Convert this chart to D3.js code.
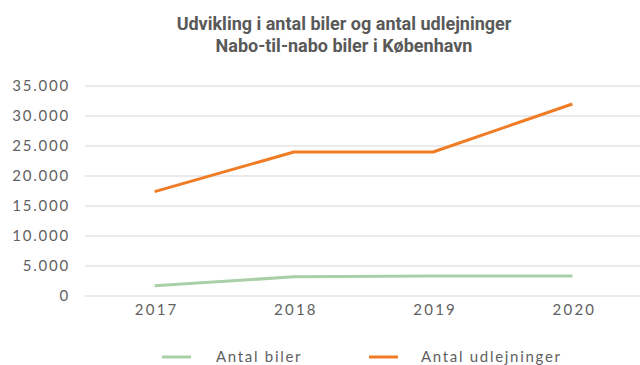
<!DOCTYPE html>
<html>
<head>
<meta charset="utf-8">
<script src="https://cdn.jsdelivr.net/npm/d3@7"></script>
<style>
  html, body { margin: 0; padding: 0; background: #fff; }
  svg { display: block; }
</style>
</head>
<body>
<svg id="chart" width="640" height="365"></svg>
<script>
// Data
const years = ["2017", "2018", "2019", "2020"];
const antalBiler = [1700, 3200, 3350, 3350];
const antalUdlejninger = [17400, 24000, 24000, 32000];
const yTicks = [0, 5000, 10000, 15000, 20000, 25000, 30000, 35000];
const seriesNames = ["Antal biler", "Antal udlejninger"];
const seriesColors = ["#a9cfa6", "#f07c26"];
const titleLines = ["Udvikling i antal biler og antal udlejninger", "Nabo-til-nabo biler i København"];

const svg = d3.select("#chart");
const W = 640, H = 365;
const m = { left: 85, right: 0, top: 86, bottom: 69 };

const x = d3.scaleBand().domain(years).range([m.left, 642]);
const y = d3.scaleLinear().domain([0, 35000]).range([H - m.bottom, m.top]);

const fmt = v => v === 0 ? "0" : d3.format(",")(v).replace(/,/g, ".");
const labelFont = "Lato, 'Open Sans', sans-serif";
const labelColor = "#5f5f5f";

// Title
svg.append("g").selectAll("text").data(titleLines).join("text")
  .attr("x", 344).attr("y", (d, i) => 30 + i * 22)
  .attr("text-anchor", "middle")
  .attr("font-family", "'Liberation Sans Narrow', 'Roboto', sans-serif")
  .attr("font-weight", "bold")
  .attr("font-size", 18)
  .attr("fill", "#595959")
  .text(d => d);

// Gridlines
svg.append("g").selectAll("line").data(yTicks).join("line")
  .attr("x1", m.left).attr("x2", W)
  .attr("y1", d => y(d)).attr("y2", d => y(d))
  .attr("stroke", "#e3e3e3").attr("stroke-width", 1.3);

// Y axis labels
const yAxis = d3.axisLeft(y).tickValues(yTicks).tickFormat(fmt).tickSize(0).tickPadding(0);
svg.append("g").attr("transform", `translate(70,0)`).call(yAxis)
  .call(g => g.select(".domain").remove())
  .call(g => g.selectAll("text")
    .attr("font-family", labelFont)
    .attr("font-size", 15)
    .attr("letter-spacing", 1.8)
    .attr("fill", labelColor));

// X axis labels
const xAxis = d3.axisBottom(x).tickSize(0).tickPadding(0);
svg.append("g").attr("transform", `translate(2,${y(0) + 8})`).call(xAxis)
  .call(g => g.select(".domain").remove())
  .call(g => g.selectAll("text")
    .attr("font-family", labelFont)
    .attr("font-size", 15)
    .attr("letter-spacing", 2.2)
    .attr("fill", labelColor));

// Lines
const line = d3.line()
  .x((d, i) => x(years[i]) + x.bandwidth() / 2)
  .y(d => y(d));

[antalBiler, antalUdlejninger].forEach((vals, k) => {
  svg.append("path").datum(vals)
    .attr("d", line)
    .attr("fill", "none")
    .attr("stroke", seriesColors[k])
    .attr("stroke-width", 3)
    .attr("stroke-linejoin", "round");
});

// Legend
const legendX = [162, 369];
const lg = svg.append("g").selectAll("g").data(seriesNames).join("g")
  .attr("transform", (d, i) => `translate(${legendX[i]},357)`);
lg.append("line").attr("x1", 0).attr("x2", 29).attr("y1", 0).attr("y2", 0)
  .attr("stroke", (d, i) => seriesColors[i]).attr("stroke-width", 3);
lg.append("text").attr("x", (d, i) => i === 0 ? 54 : 52).attr("y", 5)
  .attr("font-family", labelFont)
  .attr("font-size", 15)
  .attr("letter-spacing", 1.7)
  .attr("fill", labelColor)
  .text(d => d);
</script>
</body>
</html>
